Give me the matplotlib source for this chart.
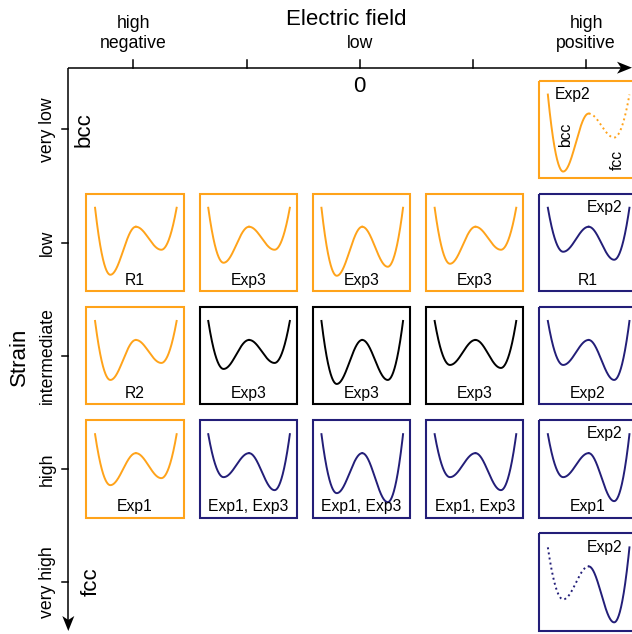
import numpy as np
import matplotlib.pyplot as plt
from matplotlib.patches import Rectangle, Polygon

# grid axes
field_ticks = ["high\nnegative", "", "low", "", "high\npositive"]
strain_ticks = ["very low", "low", "intermediate", "high", "very high"]

# one entry per energy-landscape panel (row = strain level, col = field level)
cell_row = [0, 1, 1, 1, 1, 1, 2, 2, 2, 2, 2, 3, 3, 3, 3, 3, 4]
cell_col = [4, 0, 1, 2, 3, 4, 0, 1, 2, 3, 4, 0, 1, 2, 3, 4, 4]
cell_phase = ["bcc", "bcc", "bcc", "bcc", "bcc", "fcc", "bcc", "mix", "mix", "mix", "fcc",
              "bcc", "fcc", "fcc", "fcc", "fcc", "fcc"]
# well depths below the barrier (left well = bcc, right well = fcc)
depth_bcc = [58, 48, 36, 49, 37, 25, 40, 29, 44, 25, 25, 32, 24, 40, 24, 24, 33]
depth_fcc = [24, 23, 23, 40, 23, 33, 23, 23, 40, 28, 40, 25, 37, 49, 37, 48, 56]
label_bottom = ["", "R1", "Exp3", "Exp3", "Exp3", "R1", "R2", "Exp3", "Exp3", "Exp3", "Exp2",
                "Exp1", "Exp1, Exp3", "Exp1, Exp3", "Exp1, Exp3", "Exp1", ""]
label_top = ["Exp2", "", "", "", "", "Exp2", "", "", "", "", "", "", "", "", "", "Exp2", "Exp2"]
# which side of the barrier is metastable (drawn dotted)
dotted_side = ["fcc", "", "", "", "", "", "", "", "", "", "", "", "", "", "", "", "bcc"]

colors = {"bcc": "#FFA31A", "fcc": "#231E78", "mix": "black"}

W, H = 632, 634
S = 113.2            # pixels per grid step
X0, Y0 = 133.3, 129.3  # pixel position of the first tick on each axis


def u(px):
    return px / S


def well(dl, dr, n=400):
    # schematic double well: barrier at x=0, minima at +-1, steep walls at +-1.6
    x = np.linspace(-1.6, 1.6, n)
    d = np.where(x < 0, dl, dr)
    ax_ = np.abs(x)
    inner = -d * np.sin(np.pi * np.minimum(ax_, 1) / 2) ** 2
    t = np.clip((ax_ - 1) / 0.6, 0, None)
    v = np.where(ax_ <= 1, inner, -d + (d + 19) * t ** 2)
    return x, v


plt.rcParams["font.family"] = ["Liberation Sans", "DejaVu Sans"]
fig = plt.figure(figsize=(W / 100, H / 100), dpi=100)
ax = fig.add_axes([0, 0, 1, 1])
ax.set_xlim(u(-X0), u(W - X0))
ax.set_ylim(u(H - Y0), u(-Y0))
ax.axis("off")

# axes with arrows
xa, ya = u(68.3 - X0), u(67.7 - Y0)
x_end, y_end = u(632 - X0), u(631 - Y0)
lw_ax = 1.1
ax.plot([xa, x_end - u(8)], [ya, ya], color="black", lw=lw_ax, solid_capstyle="butt")
ax.plot([xa, xa], [ya, y_end - u(8)], color="black", lw=lw_ax, solid_capstyle="butt")
hl, hw, nb = u(15), u(6), u(4)
ax.add_patch(Polygon([[x_end, ya], [x_end - hl, ya - hw], [x_end - hl + nb, ya],
                      [x_end - hl, ya + hw]], closed=True, color="black", lw=0))
ax.add_patch(Polygon([[xa, y_end], [xa - hw, y_end - hl], [xa, y_end - hl + nb],
                      [xa + hw, y_end - hl]], closed=True, color="black", lw=0))

for i, lab in enumerate(field_ticks):
    ax.plot([i, i], [ya, ya - u(8)], color="black", lw=lw_ax)
    if lab:
        ax.text(i, u(48.5 - Y0), lab, ha="center", va="baseline", fontsize=12.7,
                linespacing=1.3, multialignment="center")
for j, lab in enumerate(strain_ticks):
    ax.plot([xa, xa - u(6.5)], [j, j], color="black", lw=lw_ax)
    ax.text(u(39 - X0), j, lab, rotation=90, ha="left", va="center", fontsize=12.7)

ax.text(u(346.5 - X0), u(25 - Y0), "Electric field", ha="center", va="baseline", fontsize=16)
ax.text(2, u(91.7 - Y0), "0", ha="center", va="baseline", fontsize=16)
ax.text(u(9 - X0), u(357 - Y0), "Strain", rotation=90, ha="left", va="center", fontsize=16)
ax.text(u(84 - X0), 0, "bcc", rotation=90, ha="center", va="center", fontsize=16)
ax.text(u(91 - X0), 4, "fcc", rotation=90, ha="center", va="center", fontsize=16)

# panels
half = u(48.75)
dx_box = u(1.8)
for r, c, ph, dl, dr, lb, lt, dot in zip(cell_row, cell_col, cell_phase, depth_bcc, depth_fcc,
                                        label_bottom, label_top, dotted_side):
    col = colors[ph]
    cx, cy = c + dx_box, r
    ax.add_patch(Rectangle((cx - half, cy - half), 2 * half, 2 * half, fill=False,
                           edgecolor=col, lw=1.5))
    x, v = well(dl, dr)
    px = cx + u(0.75) + x * u(25.5)
    py = cy - u(15.75) - u(v)
    left = x <= 0
    right = x >= 0
    ax.plot(px[left], py[left], color=col, lw=1.4, ls=":" if dot == "bcc" else "-")
    ax.plot(px[right], py[right], color=col, lw=1.4, ls=":" if dot == "fcc" else "-")
    if lb:
        ax.text(cx, cy + u(42.5), lb, ha="center", va="baseline", fontsize=11.3)
    if lt:
        side = -u(15.5) if dot == "fcc" else u(17)
        ax.text(cx + side, cy - u(30.5), lt, ha="center", va="baseline", fontsize=11.3)
    if dot == "fcc":
        ax.text(cx - u(22), cy + u(5.5), "bcc", rotation=90, ha="center", va="center",
                fontsize=11.3)
        ax.text(cx + u(29.5), cy + u(31), "fcc", rotation=90, ha="center", va="center",
                fontsize=11.3)

fig.savefig("out.png", dpi=100)
